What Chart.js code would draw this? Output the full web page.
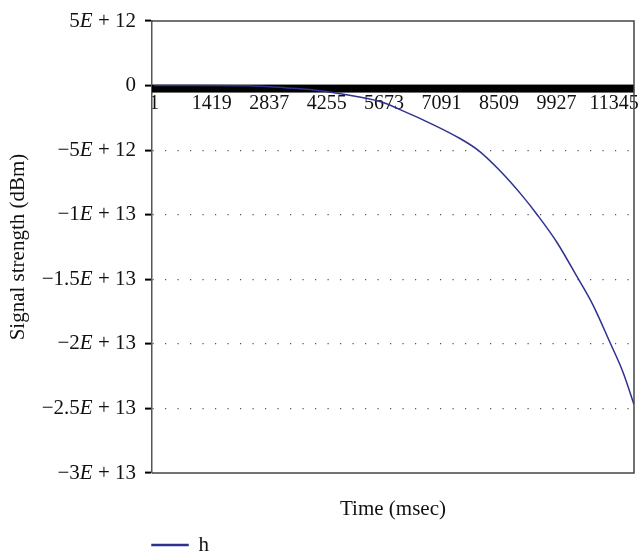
<!DOCTYPE html>
<html>
<head>
<meta charset="utf-8">
<script src="https://cdn.jsdelivr.net/npm/chart.js@4.4.0/dist/chart.umd.min.js"></script>
<style>
  html, body { margin: 0; padding: 0; background: #fff; }
</style>
</head>
<body>
<canvas id="myChart" width="639" height="557"></canvas>
<script>
// values
var timeValues = [1, 1130, 2314, 3277, 3844, 4708, 5571, 6065, 6879, 7545, 7989, 8532, 9099, 9445, 9938, 10432, 10827, 11246, 11567, 11838];
var signalValues = [0, 0, -0.02e12, -0.18e12, -0.31e12, -0.70e12, -1.24e12, -1.86e12, -3.02e12, -4.1e12, -5.0e12, -6.6e12, -8.6e12, -9.98e12, -12.15e12, -14.8e12, -17.0e12, -19.9e12, -22.2e12, -24.7e12];
var xTickValues = [1, 1419, 2837, 4255, 5673, 7091, 8509, 9927, 11345];
var yTickValues = [-3e13, -2.5e13, -2e13, -1.5e13, -1e13, -5e12, 0, 5e12];
var yTickLabels = ['\u22123E + 13', '\u22122.5E + 13', '\u22122E + 13', '\u22121.5E + 13', '\u22121E + 13', '\u22125E + 12', '0', '5E + 12'];

var serif = '"Liberation Serif", "DejaVu Serif", serif';
Chart.defaults.font.family = serif;
Chart.defaults.font.size = 21;
Chart.defaults.color = '#111';

var frame = {
    id: 'frame',
    afterLayout: function(chart) {
        var lg = chart.legend;
        lg.left = 142;
        lg.top += 8.5;
        lg.bottom += 8.5;
    },
    beforeDatasetsDraw: function(chart) {
        // dense tick marks on the zero axis show as a black band
        var a = chart.chartArea, c = chart.ctx;
        var y0 = chart.scales.y.getPixelForValue(0);
        c.save();
        c.fillStyle = '#000';
        c.fillRect(a.left, y0 - 1, a.right - a.left, 8);
        c.restore();
    },
    afterDraw: function(chart) {
        var a = chart.chartArea, c = chart.ctx, ys = chart.scales.y;
        c.save();
        c.strokeStyle = '#444';
        c.lineWidth = 1.5;
        c.beginPath();
        c.moveTo(a.left, a.top);
        c.lineTo(a.right, a.top);
        c.lineTo(a.right, a.bottom);
        c.lineTo(a.left, a.bottom);
        c.stroke();

        // y tick labels with an italic E
        var up = '21px ' + serif, it = 'italic 21px ' + serif;
        c.fillStyle = '#111';
        c.textBaseline = 'middle';
        c.textAlign = 'left';
        yTickValues.forEach(function(v, i) {
            var txt = yTickLabels[i], y = ys.getPixelForValue(v);
            var k = txt.indexOf('E');
            var parts = k < 0 ? [[txt, up]] : [[txt.slice(0, k), up], ['E', it], [txt.slice(k + 1), up]];
            var w = 0;
            parts.forEach(function(p) { c.font = p[1]; w += c.measureText(p[0]).width; });
            var x = ys.right - 7 - 9 - w;
            parts.forEach(function(p) {
                c.font = p[1];
                c.fillText(p[0], x, y);
                x += c.measureText(p[0]).width;
            });
        });
        c.restore();
    }
};

var ctx = document.getElementById('myChart').getContext('2d');
var myChart = new Chart(ctx, {
    type: 'line',
    data: {
        datasets: [{
            label: 'h',
            data: timeValues.map(function(t, i) { return {x: t, y: signalValues[i]}; }),
            xAxisID: 'x',
            yAxisID: 'y',
            borderColor: '#2e3192',
            backgroundColor: '#2e3192',
            borderWidth: 1.5,
            pointRadius: 0,
            cubicInterpolationMode: 'monotone',
            fill: false
        }]
    },
    options: {
        responsive: false,
        animation: false,
        layout: { padding: { top: 21, right: 5, left: 0, bottom: 0 } },
        plugins: {
            legend: {
                position: 'bottom',
                align: 'start',
                labels: { boxWidth: 36, boxHeight: 1, padding: 10 }
            },
            tooltip: { enabled: false }
        },
        scales: {
            x: {
                type: 'linear',
                position: { y: 0 },
                min: -54,
                max: 11838,
                afterBuildTicks: function(s) {
                    s.ticks = xTickValues.map(function(v) { return {value: v}; });
                },
                afterFit: function(s) { s.paddingLeft = 0; s.paddingRight = 0; },
                ticks: {
                    padding: 6,
                    maxRotation: 0,
                    autoSkip: false,
                    color: '#111',
                    font: { size: 20 },
                    callback: function(v) { return String(v); }
                },
                grid: { display: false, drawTicks: false },
                border: { display: false }
            },
            xb: {
                type: 'linear',
                axis: 'x',
                position: 'bottom',
                afterFit: function(s) { s.height = 43; },
                ticks: { display: false },
                grid: { display: false, drawTicks: false },
                border: { display: false },
                title: { display: true, text: 'Time (msec)', padding: { top: 0, bottom: -6.5 } }
            },
            y: {
                type: 'linear',
                position: 'left',
                min: -3e13,
                max: 5e12,
                afterFit: function(s) { s.width = 152; },
                afterBuildTicks: function(s) {
                    s.ticks = yTickValues.map(function(v) { return {value: v}; });
                },
                ticks: {
                    display: false,
                    callback: function(v) { return yTickLabels[yTickValues.indexOf(v)]; }
                },
                grid: {
                    color: function(c) {
                        var v = c.tick ? c.tick.value : 0;
                        return (v < 0 && v > -3e13) ? '#555' : 'rgba(0,0,0,0)';
                    },
                    lineWidth: 1.2,
                    tickColor: '#000',
                    tickWidth: 2,
                    tickLength: 7
                },
                border: { color: '#555', width: 1.5, dash: [1.2, 11.3] },
                title: { display: true, text: 'Signal strength (dBm)', padding: { top: 6, bottom: 0 } }
            }
        }
    },
    plugins: [frame]
});
</script>
</body>
</html>
